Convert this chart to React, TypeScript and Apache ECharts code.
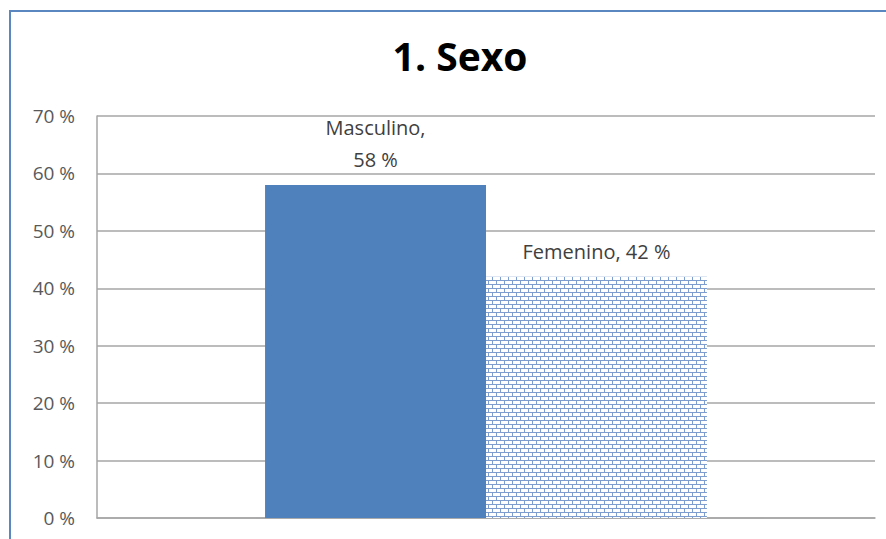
import React, { useEffect, useRef } from "react";
import * as echarts from "echarts";

const categories = ["Sexo"];
const seriesNames = ["Masculino", "Femenino"];
const seriesValues = [58, 42];
const seriesLabels = ["Masculino,\n58 %", "Femenino, 42 %"];
const yTicks = { min: 0, max: 70, interval: 10 };

function makeBrick(): HTMLCanvasElement {
  const c = document.createElement("canvas");
  c.width = 8;
  c.height = 8;
  const ctx = c.getContext("2d")!;
  ctx.fillStyle = "#ffffff";
  ctx.fillRect(0, 0, 8, 8);
  ctx.fillStyle = "#7d9dd0";
  ctx.fillRect(0, 0, 8, 1);
  ctx.fillRect(0, 4, 8, 1);
  ctx.fillRect(0, 0, 1, 4);
  ctx.fillRect(4, 4, 1, 4);
  return c;
}

export default function App() {
  const ref = useRef<HTMLDivElement>(null);
  useEffect(() => {
    if (!ref.current) return;
    const chart = echarts.init(ref.current, null, { renderer: "svg" });
    const brick = makeBrick();
    const colors: any[] = ["#4f81bd", { image: brick, repeat: "repeat" }];
    chart.setOption({
      animation: false,
      backgroundColor: "#ffffff",
      title: {
        text: "1. Sexo",
        left: 455,
        top: 31,
        textAlign: "center",
        textStyle: {
          fontFamily: "Open Sans",
          fontWeight: "bold",
          fontSize: 39,
          color: "#000000",
        },
      },
      graphic: [
        {
          type: "rect",
          shape: { x: 10, y: 11, width: 1000, height: 600 },
          style: { fill: "none", stroke: "#5b87c0", lineWidth: 2 },
          silent: true,
        },
      ],
      grid: { left: 97, right: 11, top: 116, bottom: 21 },
      xAxis: {
        type: "category",
        data: categories,
        axisTick: { show: false },
        axisLabel: { show: false },
        axisLine: { show: true, lineStyle: { color: "#a6a6a6", width: 1.5 } },
      },
      yAxis: {
        type: "value",
        min: yTicks.min,
        max: yTicks.max,
        interval: yTicks.interval,
        axisLine: { show: true, lineStyle: { color: "#a6a6a6", width: 1.5 } },
        axisTick: { show: false },
        splitLine: { lineStyle: { color: "#a6a6a6", width: 1.5 } },
        axisLabel: {
          formatter: "{value} %",
          margin: 22,
          fontFamily: "Open Sans",
          fontSize: 19,
          color: "#595959",
        },
      },
      series: seriesNames.map((name, i) => ({
        name,
        type: "bar",
        data: [seriesValues[i]],
        barWidth: "28.4%",
        barGap: "0%",
        itemStyle: { color: colors[i] },
        label: {
          show: true,
          position: "top",
          distance: 9,
          formatter: seriesLabels[i],
          fontFamily: "Open Sans",
          fontSize: 20,
          lineHeight: 32,
          color: "#404040",
        },
      })),
    });
    return () => chart.dispose();
  }, []);
  return (
    <div
      ref={ref}
      style={{ position: "absolute", left: 0, top: 0, width: 886, height: 539 }}
    />
  );
}
